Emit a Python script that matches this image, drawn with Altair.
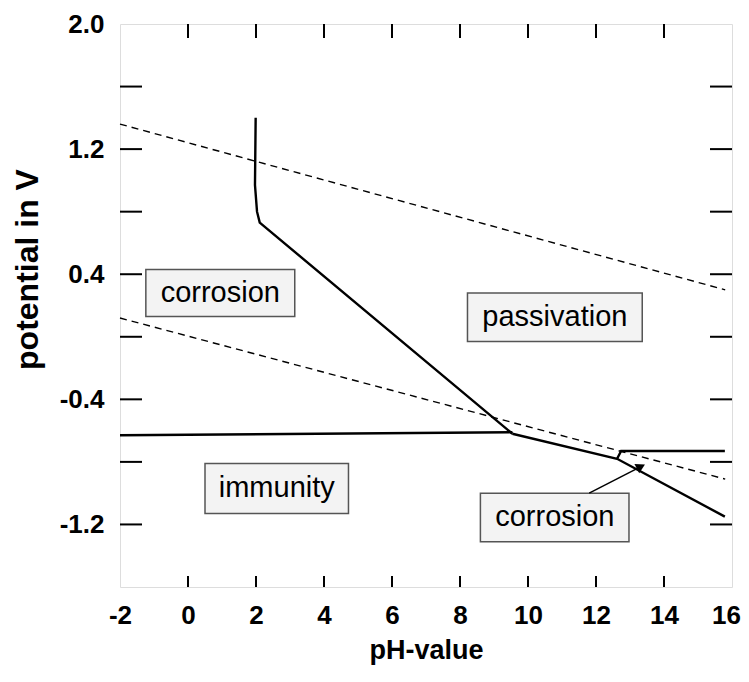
import altair as alt
import pandas as pd

# ---- axis values ----
x_tick_vals = [0, 2, 4, 6, 8, 10, 12, 14]
x_label_vals = [-2, 0, 2, 4, 6, 8, 10, 12, 14, 16]
y_tick_vals = [-1.2, -0.8, -0.4, 0.0, 0.4, 0.8, 1.2, 1.6]
y_label_vals = [-1.2, -0.4, 0.4, 1.2, 2.0]

# ---- solid phase boundaries ----
boundary_seg = ["a", "a", "a", "a", "a", "b", "b", "c", "c", "c", "d", "d", "d"]
boundary_ph = [1.99, 1.97, 2.03, 2.11, 9.54, -2.0, 9.54, 9.54, 12.62, 15.79, 12.62, 12.74, 15.79]
boundary_v = [1.40, 0.97, 0.80, 0.73, -0.62, -0.63, -0.61, -0.62, -0.78, -1.15, -0.78, -0.73, -0.73]

# ---- water stability lines (dashed) ----
water_seg = ["O2", "O2", "H2", "H2"]
water_ph = [-2.0, 15.8, -2.0, 15.8]
water_v = [1.36, 0.30, 0.12, -0.91]

# ---- region labels ----
region_names = ["corrosion", "passivation", "immunity", "corrosion"]
region_id = ["r1", "r2", "r3", "r4"]
box_ph1 = [-1.24, 8.22, 0.50, 8.60]
box_ph2 = [3.14, 13.36, 4.72, 12.97]
box_v1 = [0.43, 0.28, -0.81, -1.00]
box_v2 = [0.13, -0.03, -1.13, -1.31]
label_ph = [0.95, 10.79, 2.61, 10.79]
label_v = [0.28, 0.125, -0.965, -1.155]

# ---- arrow ----
arrow_ph = [11.80, 13.32]
arrow_v = [-1.00, -0.83]
arrow_head_ph = [13.32]
arrow_head_v = [-0.83]

W, H = 612, 563
FONT = "Liberation Sans"

xs = alt.Scale(domain=[-2, 16], nice=False, zero=False)
ys = alt.Scale(domain=[-1.6, 2.0], nice=False, zero=False)

x_axis = alt.Axis(
    values=x_label_vals, ticks=False, domain=False, grid=False,
    labelExpr="datum.value < 0 ? '-' + format(-datum.value, 'd') : format(datum.value, 'd')",
    labelFont=FONT, labelFontSize=26, labelFontWeight="bold", labelColor="black",
    labelPadding=15, labelFlush=False, labelOverlap=False,
    labelOffset={"condition": {"test": "datum.value == 16", "value": -6}, "value": 0},
    title="pH-value", titleFont=FONT, titleFontSize=27, titleFontWeight="bold",
    titleColor="black", titlePadding=9,
)
y_axis = alt.Axis(
    values=y_label_vals, ticks=False, domain=False, grid=False,
    labelExpr="datum.value < 0 ? '-' + format(-datum.value, '.1f') : format(datum.value, '.1f')",
    labelFont=FONT, labelFontSize=26, labelFontWeight="bold", labelColor="black",
    labelPadding=16, labelFlush=False, labelOverlap=False,
    title="potential in V", titleFont=FONT, titleFontSize=32, titleFontWeight="bold",
    titleColor="black", titleX=-76, titleY=245, titleBaseline="bottom", titleAngle=270,
)

def X(field="ph"):
    return alt.X(f"{field}:Q", scale=xs, axis=x_axis)

def Y(field="v"):
    return alt.Y(f"{field}:Q", scale=ys, axis=y_axis)

boundary_df = pd.DataFrame({"seg": boundary_seg, "ph": boundary_ph, "v": boundary_v,
                            "order": list(range(len(boundary_ph)))})
water_df = pd.DataFrame({"seg": water_seg, "ph": water_ph, "v": water_v})
box_df = pd.DataFrame({"id": region_id, "name": region_names, "ph": box_ph1, "ph2": box_ph2,
                       "v": box_v1, "v2": box_v2})
label_df = pd.DataFrame({"name": region_names, "ph": label_ph, "v": label_v})
arrow_df = pd.DataFrame({"ph": arrow_ph, "v": arrow_v})
head_df = pd.DataFrame({"ph": arrow_head_ph, "v": arrow_head_v})
xt_df = pd.DataFrame({"ph": x_tick_vals})
yt_df = pd.DataFrame({"v": y_tick_vals})

water = alt.Chart(water_df).mark_line(color="black", strokeWidth=1.4, strokeDash=[7, 5]).encode(
    x=X(), y=Y(), detail="seg:N")

boundary = alt.Chart(boundary_df).mark_line(color="black", strokeWidth=2.4).encode(
    x=X(), y=Y(), detail="seg:N", order="order:Q")

boxes = alt.Chart(box_df).mark_rect(fill="#f3f3f3", stroke="#555555", strokeWidth=1.5).encode(
    x=X(), x2="ph2:Q", y=Y(), y2="v2:Q")

labels = alt.Chart(label_df).mark_text(font=FONT, fontSize=29, color="black",
                                       align="center", baseline="middle").encode(
    x=X(), y=Y(), text="name:N")

arrow = alt.Chart(arrow_df).mark_line(color="black", strokeWidth=1.5).encode(x=X(), y=Y())
head = alt.Chart(head_df).mark_point(shape="triangle-up", filled=True, color="black",
                                     size=110, angle=63, opacity=1).encode(x=X(), y=Y())

tick_style = dict(color="black", strokeWidth=2)
yt_left = alt.Chart(yt_df).mark_rule(**tick_style).encode(
    y=Y(), x=alt.value(0), x2=alt.value(22))
yt_right = alt.Chart(yt_df).mark_rule(**tick_style).encode(
    y=Y(), x=alt.value(W - 22), x2=alt.value(W))
xt_top = alt.Chart(xt_df).mark_rule(**tick_style).encode(
    x=X(), y=alt.value(0), y2=alt.value(14))
xt_bottom = alt.Chart(xt_df).mark_rule(**tick_style).encode(
    x=X(), y=alt.value(H - 11), y2=alt.value(H))

chart = alt.layer(
    water, boundary, boxes, labels, arrow, head, yt_left, yt_right, xt_top, xt_bottom
).properties(
    width=W, height=H,
    autosize=alt.AutoSizeParams(type="none"),
    padding={"left": 112, "top": 16, "right": 9, "bottom": 81},
).configure_view(
    stroke="black", strokeWidth=2
).configure(background="white")

chart.save("out.html", embed_options={"renderer": "svg", "actions": False})
